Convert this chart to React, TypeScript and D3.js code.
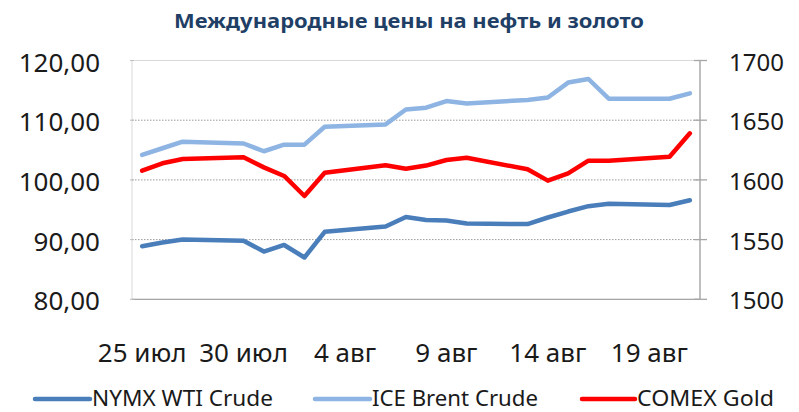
import React, { useEffect, useRef } from 'react';
import * as d3 from 'd3';

// trading days (2012)
const dates = [
  '2012-07-25', '2012-07-26', '2012-07-27', '2012-07-30', '2012-07-31',
  '2012-08-01', '2012-08-02', '2012-08-03', '2012-08-06', '2012-08-07',
  '2012-08-08', '2012-08-09', '2012-08-10', '2012-08-13', '2012-08-14',
  '2012-08-15', '2012-08-16', '2012-08-17', '2012-08-20', '2012-08-21',
];

const wti = [
  88.9, 89.5, 90.0, 89.8, 88.0, 89.1, 87.0, 91.3, 92.2, 93.8,
  93.3, 93.2, 92.7, 92.6, 93.7, 94.7, 95.6, 96.0, 95.8, 96.6,
];

const brent = [
  104.2, 105.3, 106.4, 106.1, 104.8, 105.9, 105.9, 108.9, 109.3, 111.8,
  112.1, 113.2, 112.8, 113.4, 113.8, 116.3, 116.9, 113.6, 113.6, 114.5,
];

const gold = [
  1607.7, 1613.9, 1617.5, 1618.9, 1610.5, 1603.3, 1586.5, 1606.0, 1612.2, 1609.4,
  1612.0, 1616.7, 1618.6, 1608.9, 1599.4, 1605.5, 1616.1, 1616.1, 1619.4, 1639.0,
];

const leftTicks = [80, 90, 100, 110, 120];
const rightTicks = [1500, 1550, 1600, 1650, 1700];
const xTickDates = ['2012-07-25', '2012-07-30', '2012-08-04', '2012-08-09', '2012-08-14', '2012-08-19'];
const monthNames = ['янв', 'фев', 'мар', 'апр', 'май', 'июн', 'июл', 'авг', 'сен', 'окт', 'ноя', 'дек'];

const title = 'Международные цены на нефть и золото';
const seriesNames = ['NYMX WTI Crude', 'ICE Brent Crude', 'COMEX Gold'];
const seriesColors = ['#4A7EBB', '#8DB4E2', '#FF0000'];

const W = 799;
const H = 412;
const FONT = '"Noto Sans", "Open Sans", sans-serif';

const App: React.FC = () => {
  const ref = useRef<SVGSVGElement>(null);

  useEffect(() => {
    document.body.style.margin = '0';
    if (!ref.current) return;
    const svg = d3.select(ref.current);
    svg.selectAll('*').remove();

    const left = 132, right = 700, top = 60.5, bottom = 299.3;
    const parse = d3.utcParse('%Y-%m-%d');
    const day = 24 * 3600 * 1000;
    const first = parse(dates[0])!;
    const x = d3.scaleUtc()
      .domain([new Date(+first - day / 2), new Date(+first + 27.5 * day)])
      .range([left, right]);
    const yL = d3.scaleLinear().domain([80, 120]).range([bottom, top]);
    const yR = d3.scaleLinear().domain([1500, 1700]).range([bottom, top]);

    const fmt = d3.formatLocale({ decimal: ',', thousands: ' ', grouping: [3], currency: ['', ''] }).format('.2f');

    // title
    svg.append('text')
      .attr('x', 409).attr('y', 28)
      .attr('text-anchor', 'middle')
      .attr('font-family', FONT).attr('font-weight', 'bold').attr('font-size', 20)
      .attr('fill', '#1F3F66')
      .attr('textLength', 470).attr('lengthAdjust', 'spacingAndGlyphs')
      .text(title);

    // plot area border
    svg.append('rect')
      .attr('x', left).attr('y', top)
      .attr('width', right - left).attr('height', bottom - top)
      .attr('fill', 'none').attr('stroke', '#D9D9D9').attr('stroke-width', 1);

    // gridlines
    svg.append('g')
      .selectAll('line')
      .data(leftTicks.slice(1, -1))
      .enter().append('line')
        .attr('x1', left).attr('x2', right)
        .attr('y1', d => yL(d)).attr('y2', d => yL(d))
        .attr('stroke', '#9A9A9A').attr('stroke-width', 1)
        .attr('stroke-dasharray', '1.5,1.5');

    // bottom axis + right axis
    svg.append('line')
      .attr('x1', left).attr('x2', right).attr('y1', bottom).attr('y2', bottom)
      .attr('stroke', '#A6A6A6').attr('stroke-width', 1.3);
    svg.append('line')
      .attr('x1', right).attr('x2', right).attr('y1', top).attr('y2', bottom)
      .attr('stroke', '#A6A6A6').attr('stroke-width', 1.3);
    svg.append('g')
      .selectAll('line')
      .data(rightTicks)
      .enter().append('line')
        .attr('x1', right - 6).attr('x2', right + 7)
        .attr('y1', d => yR(d)).attr('y2', d => yR(d))
        .attr('stroke', '#A6A6A6').attr('stroke-width', 1.3);
    svg.append('g')
      .selectAll('line')
      .data(leftTicks)
      .enter().append('line')
        .attr('x1', left - 2).attr('x2', left + 2)
        .attr('y1', d => yL(d)).attr('y2', d => yL(d))
        .attr('stroke', '#BFBFBF').attr('stroke-width', 1);

    // axis labels
    svg.append('g')
      .attr('font-family', FONT).attr('font-size', 26).attr('fill', '#1a1a1a')
      .attr('text-anchor', 'end')
      .selectAll('text')
      .data(leftTicks)
      .enter().append('text')
        .attr('x', 100).attr('y', d => yL(d) + 11)
        .text(d => fmt(d));

    svg.append('g')
      .attr('font-family', FONT).attr('font-size', 24).attr('fill', '#1a1a1a')
      .attr('text-anchor', 'start')
      .selectAll('text')
      .data(rightTicks)
      .enter().append('text')
        .attr('x', 729).attr('y', d => yR(d) + 10)
        .text(d => String(d));

    svg.append('g')
      .attr('font-family', FONT).attr('font-size', 26).attr('fill', '#1a1a1a')
      .attr('text-anchor', 'middle')
      .selectAll('text')
      .data(xTickDates.map(s => parse(s)!))
      .enter().append('text')
        .attr('x', d => x(d)).attr('y', 362)
        .text(d => `${d.getUTCDate()} ${monthNames[d.getUTCMonth()]}`);

    // series
    const pts = dates.map(s => parse(s)!);
    const series = [
      { vals: wti, y: yL },
      { vals: brent, y: yL },
      { vals: gold, y: yR },
    ];
    series.forEach((s, i) => {
      const line = d3.line<number>()
        .x((_, j) => x(pts[j]))
        .y(v => s.y(v));
      svg.append('path')
        .attr('d', line(s.vals))
        .attr('fill', 'none')
        .attr('stroke', seriesColors[i])
        .attr('stroke-width', 4.5)
        .attr('stroke-linejoin', 'round')
        .attr('stroke-linecap', 'round');
    });

    // legend
    const legendLines = [[35, 90], [315, 370], [582, 635]];
    const legendWidths = [181, 166, 137];
    const lg = svg.append('g');
    seriesNames.forEach((name, i) => {
      lg.append('line')
        .attr('x1', legendLines[i][0]).attr('x2', legendLines[i][1])
        .attr('y1', 399).attr('y2', 399)
        .attr('stroke', seriesColors[i]).attr('stroke-width', 4.5)
        .attr('stroke-linecap', 'round');
      lg.append('text')
        .attr('x', legendLines[i][1] + 2).attr('y', 406)
        .attr('font-family', FONT).attr('font-size', 22).attr('fill', '#1a1a1a')
        .attr('textLength', legendWidths[i]).attr('lengthAdjust', 'spacingAndGlyphs')
        .text(name);
    });
  }, []);

  return <svg ref={ref} width={W} height={H} style={{ display: 'block', background: '#fff' }} />;
};

export default App;
